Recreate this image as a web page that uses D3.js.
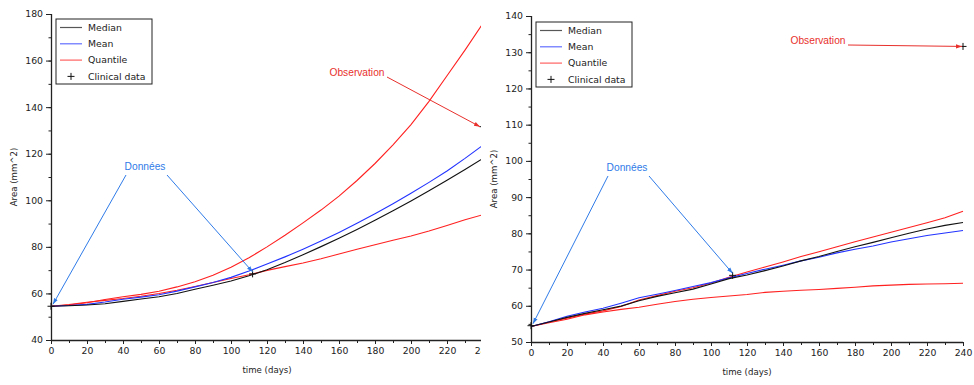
<!DOCTYPE html>
<html><head><meta charset="utf-8">
<script src="https://cdn.jsdelivr.net/npm/d3@7"></script>
<style>html,body{margin:0;padding:0;background:#fff}svg{display:block}</style>
</head><body>
<svg id="c" width="974" height="385"></svg>
<script>
const days = [0,10,20,30,40,50,60,70,80,90,100,110,120,130,140,150,160,170,180,190,200,210,220,230,240];
// Left panel
const leftMedian = [54.5,54.7,55.0,55.6,56.6,57.6,58.6,60.0,61.8,63.5,65.3,67.6,70.2,73.3,76.6,80.1,83.7,87.5,91.4,95.5,99.7,104.1,108.6,113.2,118.0];
const leftMean   = [54.5,54.8,55.3,56.3,57.5,58.4,59.4,61.0,62.8,64.7,66.9,69.6,72.6,75.7,79.0,82.5,86.2,90.1,94.2,98.5,103.0,107.7,112.6,118.0,123.7];
const leftQHigh  = [54.5,55.0,56.0,57.4,58.6,59.6,60.9,62.8,65.0,67.8,71.2,75.3,80.0,85.0,90.3,95.8,101.8,108.5,115.8,123.8,132.5,142.5,153.5,164.5,176.0];
const leftQLow   = [54.5,55.2,56.2,57.0,57.8,58.8,60.0,61.4,63.0,64.7,66.4,68.0,69.9,71.5,73.1,74.9,76.9,79.0,80.9,82.8,84.7,86.8,89.2,91.6,93.8];
// Right panel
const rightMedian = [54.3,55.5,56.8,57.9,58.9,59.9,61.4,62.6,63.6,64.6,66.0,67.5,68.5,69.7,71.0,72.4,73.6,75.0,76.3,77.5,78.8,80.0,81.2,82.2,83.0];
const rightMean   = [54.3,55.6,57.1,58.3,59.3,60.7,62.2,63.2,64.2,65.3,66.4,67.7,68.9,70.1,71.2,72.4,73.4,74.6,75.6,76.5,77.6,78.5,79.4,80.1,80.8];
const rightQHigh  = [54.3,55.5,56.6,57.7,58.6,59.8,61.6,62.8,64.0,65.0,66.3,67.9,69.3,70.7,72.1,73.6,74.9,76.3,77.7,79.0,80.3,81.6,82.9,84.3,86.1];
const rightQLow   = [54.3,55.3,56.3,57.5,58.3,59.0,59.6,60.4,61.2,61.8,62.3,62.7,63.1,63.7,64.0,64.3,64.5,64.8,65.1,65.5,65.7,65.9,66.0,66.1,66.2];
// Clinical data
const clinicalDays = [0,112,240];
const clinicalValues = [54.5,68.4,131.6];
const xTicks = [0,20,40,60,80,100,120,140,160,180,200,220,240];
const leftYTicks = [40,60,80,100,120,140,160,180];
const rightYTicks = [50,60,70,80,90,100,110,120,130,140];
const legendLabels = ["Median","Mean","Quantile","Clinical data"];

const svg = d3.select("#c");
const defs = svg.append("defs");
const mk = (id,col)=>defs.append("marker").attr("id",id).attr("viewBox","0 0 10 10").attr("refX",10).attr("refY",5)
  .attr("markerWidth",6).attr("markerHeight",6).attr("markerUnits","userSpaceOnUse").attr("orient","auto")
  .append("path").attr("d","M0,1.5L10,5L0,8.5Z").attr("fill",col);
mk("ab","#2f7be8"); mk("ar","#e8302c");
defs.append("clipPath").attr("id","clipL").append("rect").attr("x",0).attr("y",0).attr("width",481).attr("height",385);

const C_BLACK="#111", C_BLUE="#2233ff", C_RED="#ff2020";
const TICKFONT="DejaVu Sans";

function panel(g, o){
  const x = d3.scaleLinear().domain([0,240]).range([o.x0,o.x0+432]);
  const y = d3.scaleLinear().domain(o.yDom).range([o.yBot,o.yTop]);
  // axes
  const xMinor = d3.range(0,241,10);
  const yMinor = d3.range(o.yDom[0],o.yDom[1]+0.01,o.yStep/2);
  const xa = g.append("g").attr("transform",`translate(0,${o.yBot})`)
    .call(d3.axisBottom(x).tickValues(xTicks).tickSize(4).tickPadding(3).tickFormat(d3.format("d")));
  const xm = g.append("g").attr("transform",`translate(0,${o.yBot})`)
    .call(d3.axisBottom(x).tickValues(xMinor).tickSize(3).tickFormat(""));
  const ya = g.append("g").attr("transform",`translate(${o.x0},0)`)
    .call(d3.axisLeft(y).tickValues(o.yTicks).tickSize(5).tickPadding(3).tickFormat(d3.format("d")));
  const ym = g.append("g").attr("transform",`translate(${o.x0},0)`)
    .call(d3.axisLeft(y).tickValues(yMinor).tickSize(2.5).tickFormat(""));
  [xa,xm,ya,ym].forEach(a=>{
    a.selectAll("path").attr("stroke","#222").attr("stroke-width",1.3);
    a.selectAll("line").attr("stroke","#222").attr("stroke-width",1);
    a.selectAll("text").attr("font-family",TICKFONT).attr("font-size",9.3).attr("fill","#222");
  });
  xm.select("path").remove(); ym.select("path").remove();
  ya.select("path").attr("d",`M0.5,${o.yBot}V${o.yTop}`);
  xa.select("path").attr("d",`M${o.x0},0.5H${o.x0+432}`);
  // axis titles
  g.append("text").attr("x",o.x0+216).attr("y",o.yBot+33).attr("text-anchor","middle")
    .attr("font-family",TICKFONT).attr("font-size",8.6).attr("fill","#222").text("time (days)");
  g.append("text").attr("transform",`translate(${o.x0-34},${(o.yBot+o.yTop)/2}) rotate(-90)`).attr("text-anchor","middle")
    .attr("font-family",TICKFONT).attr("font-size",8.6).attr("fill","#222").text("Area (mm^2)");
  // lines
  const line = d3.line().x((d,i)=>x(days[i])).y(d=>y(d));
  const series = [[o.qh,C_RED],[o.ql,C_RED],[o.mean,C_BLUE],[o.med,C_BLACK]];
  series.forEach(([s,c])=>g.append("path").attr("d",line(s)).attr("fill","none").attr("stroke",c).attr("stroke-width",1.1));
  // clinical crosses
  clinicalDays.forEach((dd,i)=>{
    const cx=x(dd), cy=y(clinicalValues[i]);
    g.append("path").attr("d",`M${cx-3.5},${cy}H${cx+3.5}M${cx},${cy-3.5}V${cy+3.5}`).attr("stroke","#111").attr("stroke-width",1);
  });
  // annotations
  const tx = o.x0 + o.donX;
  g.append("text").attr("x",tx).attr("y",o.donY).attr("text-anchor","middle").attr("font-family","Liberation Sans, Arial")
    .attr("font-size",10.2).attr("fill","#2f7be8").text("Données");
  g.append("line").attr("x1",tx-19).attr("y1",o.donY+5).attr("x2",x(clinicalDays[0])+2).attr("y2",y(clinicalValues[0])-2)
    .attr("stroke","#2f7be8").attr("stroke-width",1).attr("marker-end","url(#ab)");
  g.append("line").attr("x1",tx+22).attr("y1",o.donY+5).attr("x2",x(clinicalDays[1])).attr("y2",y(clinicalValues[1])-2)
    .attr("stroke","#2f7be8").attr("stroke-width",1).attr("marker-end","url(#ab)");
  g.append("text").attr("x",o.obsX).attr("y",o.obsY).attr("text-anchor","middle").attr("font-family","Liberation Sans, Arial")
    .attr("font-size",10.2).attr("fill","#e8302c").text("Observation");
  g.append("line").attr("x1",o.obsX+30).attr("y1",o.obsY+1).attr("x2",x(clinicalDays[2])-o.obsOff).attr("y2",y(clinicalValues[2]))
    .attr("stroke","#e8302c").attr("stroke-width",1).attr("marker-end","url(#ar)");
  // legend
  const lg = g.append("g").attr("transform",`translate(${o.x0+5},${o.legY})`);
  lg.append("rect").attr("x",0).attr("y",0).attr("width",96).attr("height",65).attr("fill","#fff").attr("stroke","#222").attr("stroke-width",1);
  const cols=[C_BLACK,C_BLUE,C_RED];
  legendLabels.forEach((t,i)=>{
    const yy = 8.5 + i*16.3;
    if(i<3) lg.append("line").attr("x1",4).attr("x2",26).attr("y1",yy).attr("y2",yy).attr("stroke",cols[i]).attr("stroke-width",1.2).attr("opacity",0.7);
    else lg.append("path").attr("d",`M${15-3.5},${yy}H${15+3.5}M15,${yy-3.5}V${yy+3.5}`).attr("stroke","#111").attr("stroke-width",1);
    lg.append("text").attr("x",32).attr("y",yy+3.3).attr("font-family",TICKFONT).attr("font-size",9.3).attr("fill","#222").text(t);
  });
}

const gL = svg.append("g").attr("clip-path","url(#clipL)");
panel(gL,{x0:51,yDom:[40,180],yBot:340,yTop:14,yTicks:leftYTicks,yStep:20,
  med:leftMedian,mean:leftMean,qh:leftQHigh,ql:leftQLow,donX:94,donY:170,obsX:357,obsY:76,obsOff:3,legY:19});
const gR = svg.append("g");
panel(gR,{x0:531,yDom:[50,140],yBot:342,yTop:16,yTicks:rightYTicks,yStep:10,
  med:rightMedian,mean:rightMean,qh:rightQHigh,ql:rightQLow,donX:96,donY:171,obsX:818,obsY:44,obsOff:1,legY:22});
</script>
</body></html>
